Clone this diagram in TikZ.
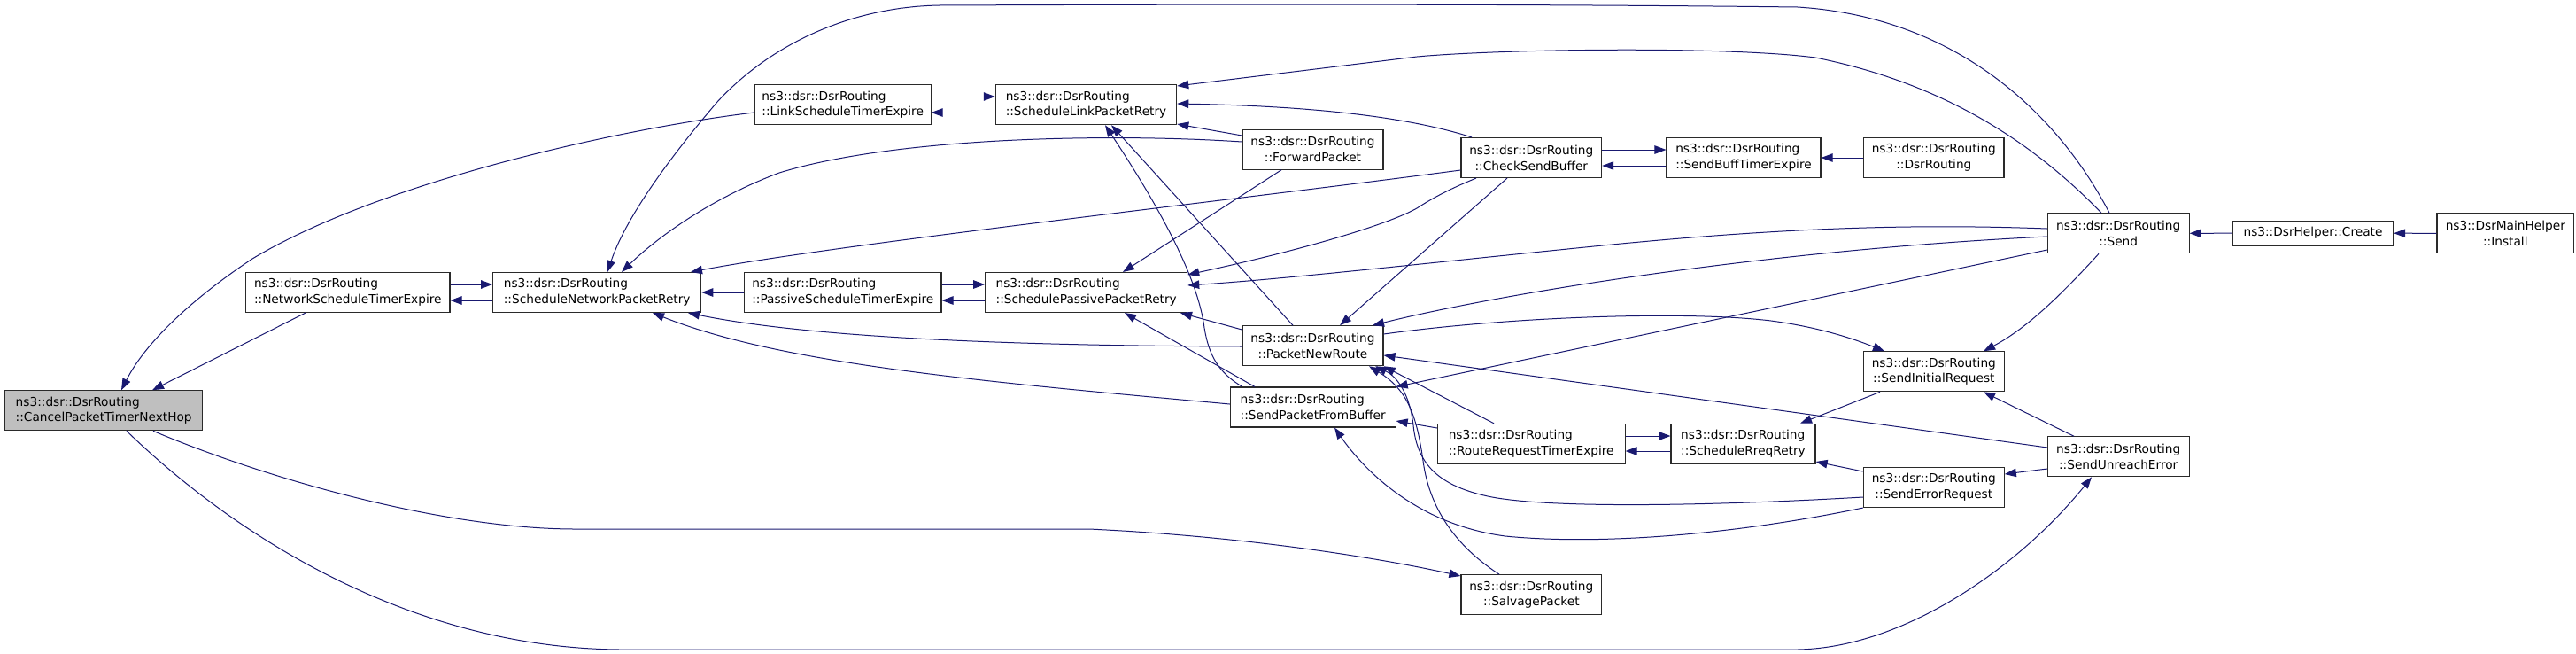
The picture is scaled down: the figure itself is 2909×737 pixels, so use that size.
\documentclass[tikz,border=0pt]{standalone}
\usepackage{fontspec}
\setmainfont{DejaVu Sans}
\usetikzlibrary{arrows.meta,calc}
\definecolor{edgec}{HTML}{191970}
\definecolor{grayfill}{HTML}{BFBFBF}
\definecolor{boxline}{HTML}{2A2A2A}
\begin{document}
\begin{tikzpicture}[x=1pt,y=-1pt,
  box/.style={draw=boxline, line width=1.1pt, fill=white, minimum height=45pt, inner xsep=3pt, inner ysep=2pt, font=\fontsize{13.7}{17.8}\selectfont},
  lbox/.style={box, align=left},
  cbox/.style={box, align=center},
  e/.style={draw=edgec, line width=1pt, -{Triangle[length=13pt,width=9.5pt]}}]
\useasboundingbox (0,0) rectangle (2909,737);

% nodes
\node[lbox, fill=grayfill, minimum width=223pt] (cancel) at (117.2,463.3) {ns3::dsr::DsrRouting\\::CancelPacketTimerNextHop};
\node[lbox, minimum width=230.3pt] (netexp) at (392.8,330) {ns3::dsr::DsrRouting\\::NetworkScheduleTimerExpire};
\node[lbox, minimum width=235pt] (netretry) at (674.2,330) {ns3::dsr::DsrRouting\\::ScheduleNetworkPacketRetry};
\node[lbox, minimum width=198.7pt] (linkexp) at (951.7,118.2) {ns3::dsr::DsrRouting\\::LinkScheduleTimerExpire};
\node[lbox, minimum width=222.3pt] (passexp) at (951.8,330) {ns3::dsr::DsrRouting\\::PassiveScheduleTimerExpire};
\node[lbox, minimum width=204.4pt] (linkretry) at (1226.5,118.2) {ns3::dsr::DsrRouting\\::ScheduleLinkPacketRetry};
\node[lbox, minimum width=228pt] (passretry) at (1226.7,330) {ns3::dsr::DsrRouting\\::SchedulePassivePacketRetry};
\node[cbox, minimum width=159pt] (forward) at (1482.5,168.7) {ns3::dsr::DsrRouting\\::ForwardPacket};
\node[cbox, minimum width=159pt] (newroute) at (1482.5,390.2) {ns3::dsr::DsrRouting\\::PacketNewRoute};
\node[lbox, minimum width=186.7pt] (sendbuf) at (1482.7,459.5) {ns3::dsr::DsrRouting\\::SendPacketFromBuffer};
\node[cbox, minimum width=158.7pt] (checksend) at (1729.3,178) {ns3::dsr::DsrRouting\\::CheckSendBuffer};
\node[lbox, minimum width=174pt] (buffexp) at (1969,178) {ns3::dsr::DsrRouting\\::SendBuffTimerExpire};
\node[cbox, minimum width=158.3pt] (dsrrouting) at (2183.8,178) {ns3::dsr::DsrRouting\\::DsrRouting};
\node[lbox, minimum width=211.7pt] (rreqexp) at (1729.2,500.8) {ns3::dsr::DsrRouting\\::RouteRequestTimerExpire};
\node[lbox, minimum width=163pt] (rreqretry) at (1968.5,500.8) {ns3::dsr::DsrRouting\\::ScheduleRreqRetry};
\node[cbox, minimum width=158.7pt] (salvage) at (1729.3,671.2) {ns3::dsr::DsrRouting\\::SalvagePacket};
\node[cbox, minimum width=159pt] (initreq) at (2183.8,419.3) {ns3::dsr::DsrRouting\\::SendInitialRequest};
\node[cbox, minimum width=159pt] (errreq) at (2183.8,550) {ns3::dsr::DsrRouting\\::SendErrorRequest};
\node[cbox, minimum width=159.7pt] (send) at (2392.2,263.3) {ns3::dsr::DsrRouting\\::Send};
\node[cbox, minimum width=159.7pt] (unreach) at (2392.2,515.3) {ns3::dsr::DsrRouting\\::SendUnreachError};
\node[cbox, minimum width=181.2pt, minimum height=28.3pt] (create) at (2612,263.2) {ns3::DsrHelper::Create};
\node[cbox, minimum width=154.6pt] (install) at (2829.3,263.3) {ns3::DsrMainHelper\\::Install};

% edges
\draw[e] (linkexp.west |- 0,127) .. controls (700,145) and (430,205) .. (285,292) .. controls (220,335) and (165,385) .. (cancel.north -| 137,0);
\draw[e] (netexp.south -| 345,0) -- (cancel.north -| 172,0);
\draw[e] (netexp.east |- 0,321) -- (netretry.west |- 0,321);
\draw[e] (netretry.west |- 0,339) -- (netexp.east |- 0,339);

\draw[e] (send.north -| 2382,0) .. controls (2330,140) and (2220,20) .. (2030,8) .. controls (1700,4) and (1300,5) .. (1060,6) .. controls (960,8) and (870,50) .. (810,115) .. controls (750,185) and (705,250) .. (netretry.north -| 686,0);
\draw[e] (send.north -| 2373,0) .. controls (2300,165) and (2200,95) .. (2050,65) .. controls (1950,52) and (1700,55) .. (1600,64) -- (linkretry.east |- 0,97);
\draw[e] (checksend.north -| 1662,0) .. controls (1600,135) and (1500,120) .. (linkretry.east |- 0,117);
\draw[e] (forward.west |- 0,153) -- (linkretry.east |- 0,140);
\draw[e] (forward.west |- 0,160) .. controls (1250,150) and (1010,155) .. (880,195) .. controls (800,225) and (740,270) .. (netretry.north -| 702,0);
\draw[e] (checksend.west |- 0,192) .. controls (1400,225) and (950,275) .. (netretry.north -| 780,0);
\draw[e] (passexp.west |- 0,330) -- (netretry.east |- 0,330);
\draw[e] (newroute.west |- 0,391) .. controls (1100,390) and (900,378) .. (netretry.south -| 777,0);
\draw[e] (sendbuf.west |- 0,456) .. controls (1100,430) and (880,410) .. (netretry.south -| 737,0);

\draw[e] (send.west |- 0,258) .. controls (2150,252) and (2000,258) .. (1800,278) .. controls (1600,298) and (1450,315) .. (passretry.east |- 0,322);
\draw[e] (send.west |- 0,267) .. controls (2000,282) and (1700,330) .. (newroute.north -| 1550,0);
\draw[e] (forward.south -| 1447,0) -- (passretry.north -| 1268,0);
\draw[e] (checksend.south -| 1667,0) .. controls (1640,212) and (1620,222) .. (1600,235) .. controls (1570,252) and (1480,280) .. (passretry.east |- 0,310);
\draw[e] (newroute.west |- 0,372) -- (passretry.south -| 1333,0);
\draw[e] (sendbuf.north -| 1417,0) -- (passretry.south -| 1270,0);
\draw[e] (checksend.south -| 1702,0) -- (newroute.north -| 1513,0);
\draw[e] (newroute.north -| 1460,0) -- (linkretry.south -| 1255,0);
\draw[e] (sendbuf.north -| 1403,0) .. controls (1375,420) and (1365,400) .. (1360,370) .. controls (1355,330) and (1330,265) .. (linkretry.south -| 1248,0);
\draw[e] (send.west |- 0,282) -- (sendbuf.north east);
\draw[e] (unreach.west |- 0,505) -- (newroute.east |- 0,401);
\draw[e] (newroute.east |- 0,377) .. controls (1700,358) and (1900,350) .. (2000,362) .. controls (2060,370) and (2100,385) .. (initreq.north -| 2128,0);
\draw[e] (rreqexp.north -| 1687,0) -- (newroute.south east);
\draw[e] (errreq.west |- 0,561) .. controls (1950,570) and (1750,575) .. (1680,560) .. controls (1620,547) and (1600,520) .. (1596,480) .. controls (1592,445) and (1578,425) .. (newroute.south -| 1553,0);
\draw[e] (salvage.north -| 1693,0) .. controls (1650,620) and (1615,580) .. (1607,520) .. controls (1600,470) and (1590,440) .. (newroute.south -| 1546,0);
\draw[e] (rreqexp.west |- 0,483) -- (sendbuf.east |- 0,475);
\draw[e] (errreq.south west) .. controls (1950,605) and (1800,615) .. (1700,605) .. controls (1600,592) and (1540,530) .. (sendbuf.south -| 1507,0);

\draw[e] (send.south -| 2370,0) .. controls (2330,330) and (2290,370) .. (initreq.north -| 2240,0);
\draw[e] (initreq.south -| 2123,0) -- (rreqretry.north -| 2033,0);
\draw[e] (unreach.north -| 2342,0) -- (initreq.south -| 2240,0);
\draw[e] (rreqexp.east |- 0,492) -- (rreqretry.west |- 0,492);
\draw[e] (rreqretry.west |- 0,509) -- (rreqexp.east |- 0,509);
\draw[e] (errreq.west |- 0,532) -- (rreqretry.east |- 0,521);
\draw[e] (unreach.west |- 0,529) -- (errreq.east |- 0,535);

\draw[e] (cancel.south -| 143,0) .. controls (250,590) and (450,731) .. (700,733) -- (2030,733) .. controls (2150,731) and (2280,640) .. (unreach.south -| 2362,0);
\draw[e] (cancel.south -| 173,0) .. controls (300,540) and (500,597) .. (650,597) -- (1230,597) .. controls (1400,605) and (1550,628) .. (salvage.west |- 0,650);

\draw[e] (linkexp.east |- 0,109) -- (linkretry.west |- 0,109);
\draw[e] (linkretry.west |- 0,127) -- (linkexp.east |- 0,127);
\draw[e] (passexp.east |- 0,321) -- (passretry.west |- 0,321);
\draw[e] (passretry.west |- 0,339) -- (passexp.east |- 0,339);
\draw[e] (checksend.east |- 0,169) -- (buffexp.west |- 0,169);
\draw[e] (buffexp.west |- 0,187) -- (checksend.east |- 0,187);
\draw[e] (dsrrouting.west) -- (buffexp.east);
\draw[e] (create.west) -- (send.east);
\draw[e] (install.west) -- (create.east);
\end{tikzpicture}
\end{document}
